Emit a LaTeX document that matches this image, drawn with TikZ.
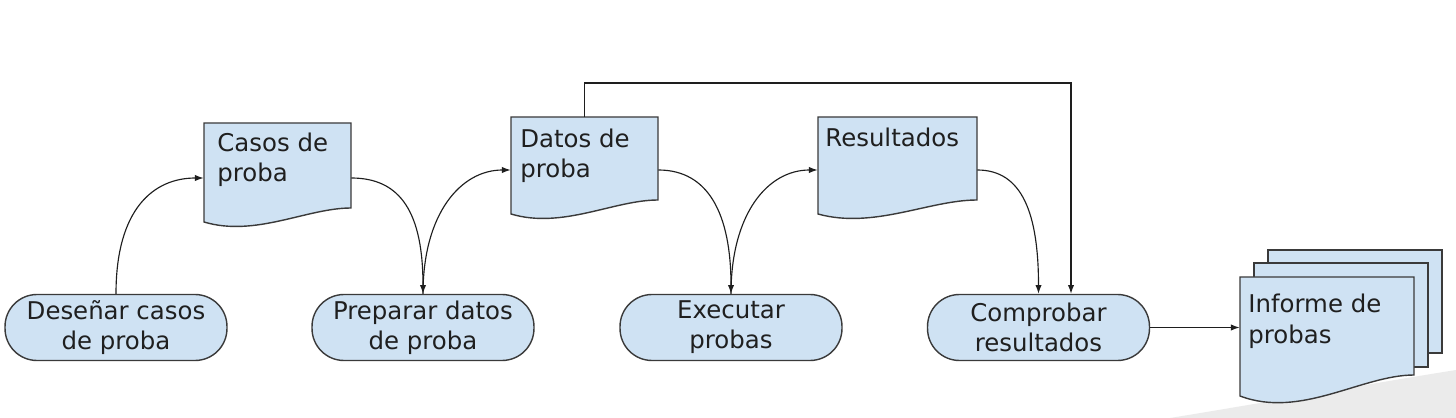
\documentclass[tikz,border=0pt]{standalone}
\usepackage{fontspec}
\setmainfont{DejaVu Sans}
\usetikzlibrary{arrows.meta,calc}
\definecolor{boxfill}{HTML}{CFE2F3}
\definecolor{boxline}{HTML}{3A3A3A}
\definecolor{bggray}{HTML}{EBEBEB}
\definecolor{connline}{HTML}{1E1E1E}
\newcommand\docshape[5]{%
  \filldraw[docline] (#1,#2) -- (#3,#2) -- (#3,#4)
    .. controls ({#3-0.3*(#3-#1)},#4) and ({#1+0.35*(#3-#1)},{#4+2.1*#5}) .. (#1,{#4+#5}) -- cycle;}
\begin{document}
\begin{tikzpicture}[x=0.02cm,y=-0.02cm,
  every node/.style={font=\fontsize{13.9}{17.1}\selectfont, text=black!88},
  docline/.style={draw=boxline, fill=boxfill, line width=0.8pt},
  terminal/.style={draw=boxline, fill=boxfill, line width=0.8pt,
    minimum width=4.44cm, minimum height=1.32cm, rounded corners=0.64cm,
    align=center, inner sep=0pt},
  anchorbox/.style={draw=none, inner sep=0pt, minimum height=2.12cm},
  doctext/.style={anchor=base west, align=left, inner sep=0pt},
  conn/.style={draw=connline, line width=0.65pt, -{Latex[length=5pt,width=3.6pt]}}]
\useasboundingbox (0,0) rectangle (1456,418);
\fill[bggray] (1170,418) .. controls (1280,400) and (1380,382) .. (1456,370) -- (1456,418) -- cycle;

% terminals
\node[terminal] (desenar) at (116,327.5) {Deseñar casos\\de proba};
\node[terminal] (preparar) at (423,327.5) {Preparar datos\\de proba};
\node[terminal] (executar) at (731,327.5) {Executar\\probas};
\node[terminal] (comprobar) at (1038.5,327.5) {Comprobar\\resultados};

% documents
\docshape{204}{123}{351}{208}{14}
\docshape{511}{117}{658}{200}{14}
\docshape{818}{117}{977}{200}{14}
\filldraw[docline] (1268,250) rectangle (1442,353);
\filldraw[docline] (1254,263) rectangle (1428,367);
\docshape{1240}{277}{1414}{375}{21}

\node[anchorbox, minimum width=2.94cm, minimum height=2.2cm] (casos) at (277.5,178) {};
\node[anchorbox, minimum width=2.94cm] (datos) at (584.5,170) {};
\node[anchorbox, minimum width=3.18cm] (resultados) at (897.5,170) {};
\node[anchorbox, minimum width=3.48cm, minimum height=2cm] (informe) at (1327,327) {};

% base anchor of a two-line node is the baseline of its last line
\node[doctext] (casosT) at (217,182) {Casos de\\proba};
\node[doctext] (datosT) at (520,178) {Datos de\\proba};
\node[doctext] (resultadosT) at (825,147) {Resultados};
\node[doctext] (informeT) at (1248,343) {Informe de\\probas};

% connectors
\draw[conn] (desenar.north) .. controls +(0,-85) and +(-50,0) .. (casos.west);
\draw[conn] (casos.east) .. controls +(50,0) and +(0,-80) .. (preparar.north);
\draw[conn] (preparar.north) .. controls +(0,-80) and +(-50,0) .. (datos.west);
\draw[conn] (datos.east) .. controls +(50,0) and +(0,-80) .. (executar.north);
\draw[conn] (executar.north) .. controls +(0,-80) and +(-50,0) .. (resultados.west);
\draw[conn] (resultados.east) .. controls +(45,0) and +(0,-80) .. (comprobar.north);
\coordinate (topright) at (1071,83);
\draw[conn] (datos.north) |- (topright) -- (topright |- comprobar.north);
\draw[conn] (comprobar.east) -- (comprobar.east -| informe.west);
\end{tikzpicture}
\end{document}
